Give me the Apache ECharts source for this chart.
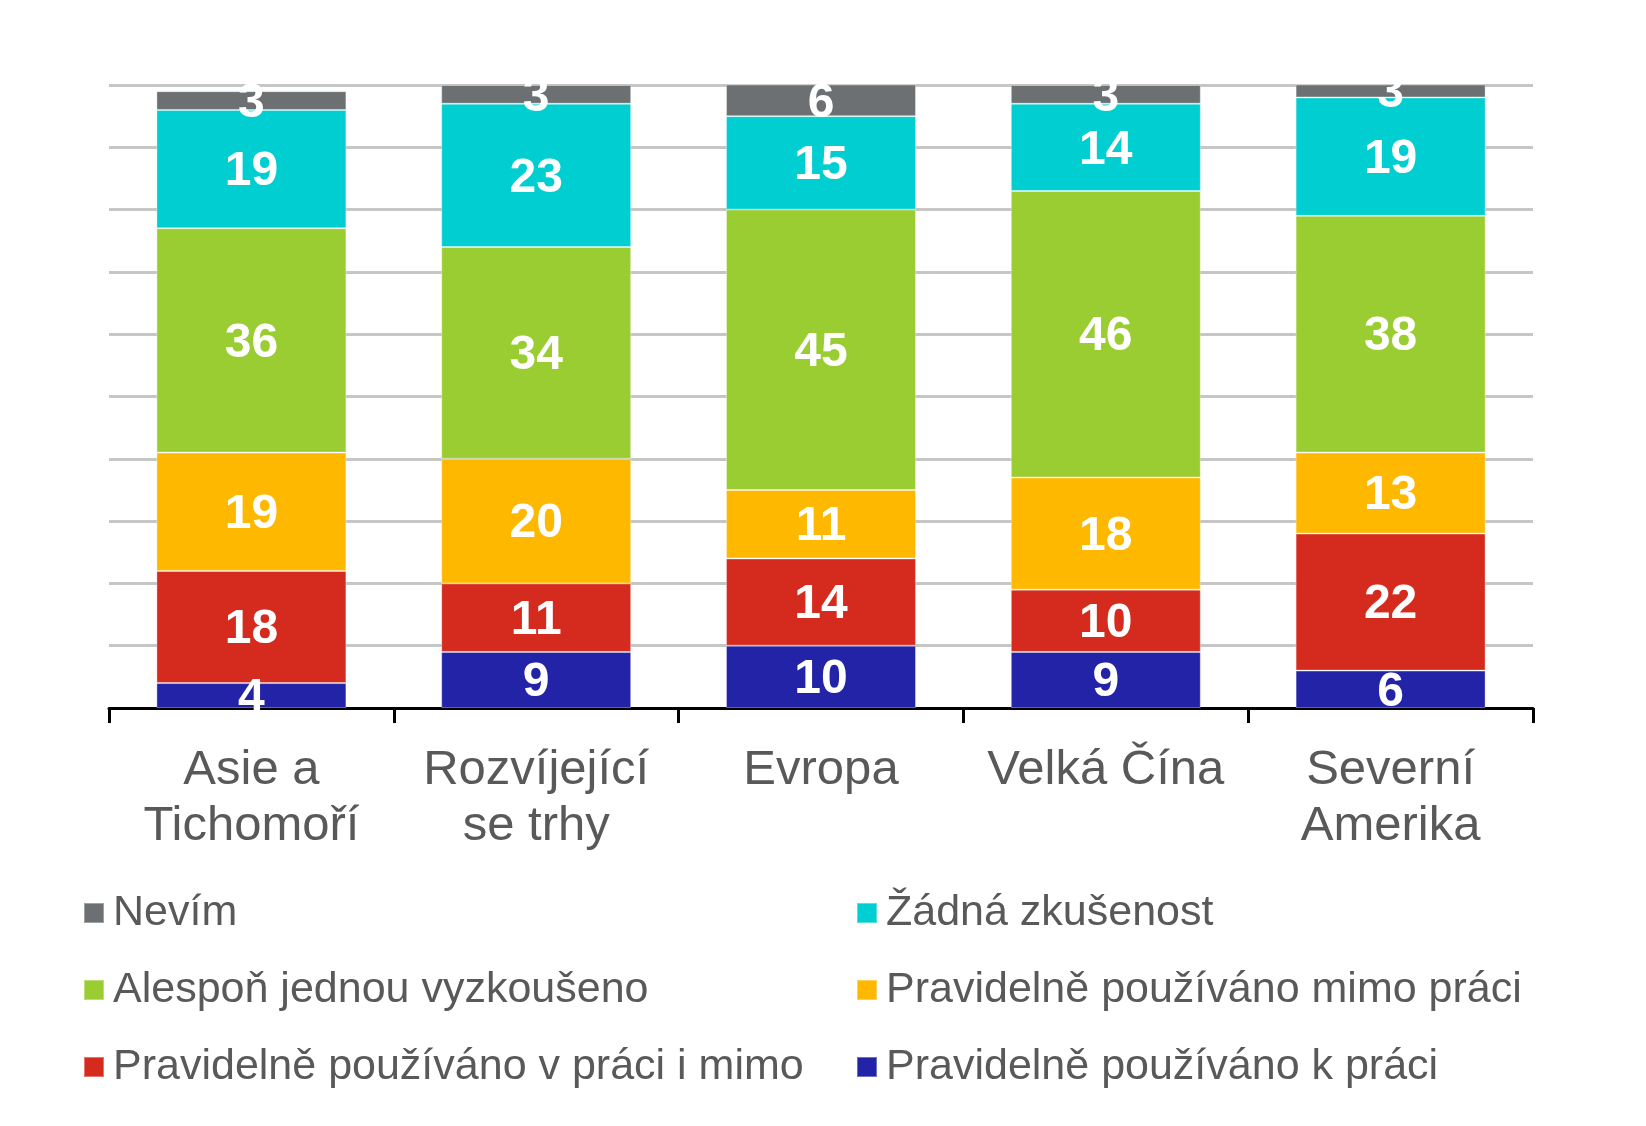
<!DOCTYPE html>
<html>
<head>
<meta charset="utf-8">
<script src="https://cdn.jsdelivr.net/npm/echarts@6/dist/echarts.min.js"></script>
<style>
html,body{margin:0;padding:0;background:#fff;}
#chart{width:1646px;height:1126px;}
</style>
</head>
<body>
<div id="chart"></div>
<script>
const categories = ["Asie a\nTichomoří", "Rozvíjející\nse trhy", "Evropa", "Velká Čína", "Severní\nAmerika"];
const seriesNames = ["Pravidelně používáno k práci", "Pravidelně používáno v práci i mimo", "Pravidelně používáno mimo práci", "Alespoň jednou vyzkoušeno", "Žádná zkušenost", "Nevím"];
const kPraci = [4, 9, 10, 9, 6];
const vPraciIMimo = [18, 11, 14, 10, 22];
const mimoPraci = [19, 20, 11, 18, 13];
const alesponJednou = [36, 34, 45, 46, 38];
const zadnaZkusenost = [19, 23, 15, 14, 19];
const nevim = [3, 3, 6, 3, 3];
const seriesValues = [kPraci, vPraciIMimo, mimoPraci, alesponJednou, zadnaZkusenost, nevim];
const colors = ["#2323A8", "#D52B1E", "#FFB800", "#9ACD32", "#00CED1", "#6C7072"];
const legendLeft = ["Nevím", "Alespoň jednou vyzkoušeno", "Pravidelně používáno v práci i mimo"];
const legendRight = ["Žádná zkušenost", "Pravidelně používáno mimo práci", "Pravidelně používáno k práci"];

const chart = echarts.init(document.getElementById('chart'), null, {renderer: 'canvas'});
const legendText = {
  color: '#595959',
  fontSize: 43,
  lineHeight: 48,
  padding: [0, 0, 0, 4],
  fontFamily: '"Liberation Sans", Arial, sans-serif'
};
const option = {
  animation: false,
  backgroundColor: '#ffffff',
  textStyle: {fontFamily: '"Liberation Sans", Arial, sans-serif'},
  grid: {left: 109, right: 113, top: 85, bottom: 418, containLabel: false},
  legend: [
    {orient: 'vertical', left: 78, top: 884, itemWidth: 20, itemHeight: 20, itemGap: 29,
     icon: 'rect', data: legendLeft, textStyle: legendText, selectedMode: false},
    {orient: 'vertical', left: 851, top: 884, itemWidth: 20, itemHeight: 20, itemGap: 29,
     icon: 'rect', data: legendRight, textStyle: legendText, selectedMode: false}
  ],
  xAxis: {
    type: 'category',
    data: categories,
    axisLine: {lineStyle: {color: '#000', width: 3}},
    axisTick: {show: true, interval: 0, length: 15, lineStyle: {color: '#000', width: 3}},
    axisLabel: {interval: 0, color: '#595959', fontSize: 49, lineHeight: 56, margin: 34,
                fontFamily: '"Liberation Sans", Arial, sans-serif'}
  },
  yAxis: {
    type: 'value',
    min: 0, max: 100, interval: 10,
    axisLine: {show: false},
    axisTick: {show: false},
    axisLabel: {show: false},
    splitLine: {lineStyle: {color: '#C6C6C6', width: 3}}
  },
  series: seriesNames.map((name, i) => ({
    name: name,
    type: 'bar',
    stack: 'total',
    barCategoryGap: '33.3%',
    data: seriesValues[i],
    itemStyle: {color: colors[i], borderColor: 'rgba(255,255,255,0.35)', borderWidth: 1},
    label: {
      show: true,
      position: 'inside',
      offset: [0, 3],
      color: '#ffffff',
      fontWeight: 'bold',
      fontSize: 48,
      fontFamily: '"Liberation Sans", Arial, sans-serif'
    }
  }))
};
chart.setOption(option);
</script>
</body>
</html>
